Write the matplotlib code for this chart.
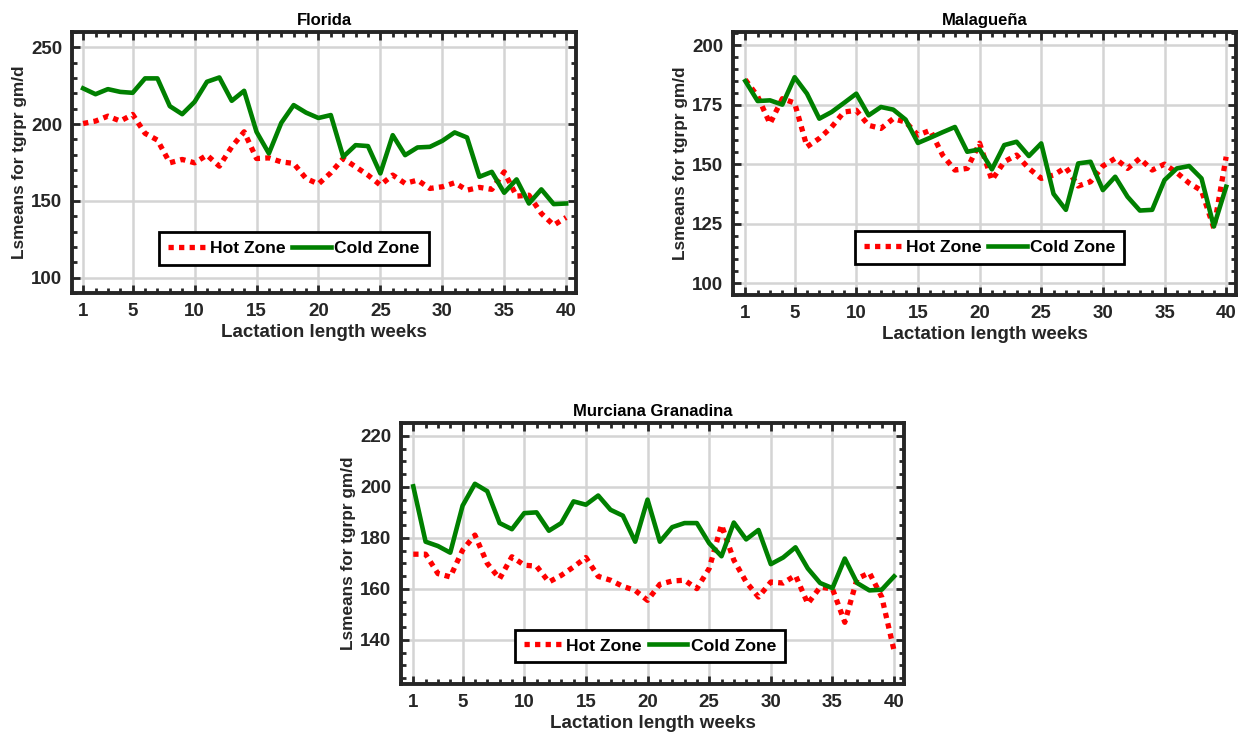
import matplotlib
matplotlib.use("Agg")
import matplotlib.pyplot as plt
from matplotlib.ticker import MultipleLocator, FixedLocator

plt.rcParams['font.family'] = ['Liberation Sans', 'DejaVu Sans']

weeks = list(range(1, 41))
xticks = [1, 5, 10, 15, 20, 25, 30, 35, 40]

florida_hot = [200.4, 202, 205.2, 202, 206.3, 194, 189.6, 174.8, 177, 174.8,
               179.8, 172.6, 185.2, 195, 177.6, 178, 175.4, 174.4, 164.6, 161,
               168.3, 177.6, 172.2, 166.8, 160.3, 166.8, 161.4, 163.5, 158.1, 159.2,
               161.8, 157, 158.8, 157.5, 168.9, 153.1, 153.7, 141.8, 134.2, 139.2]
florida_cold = [223.3, 219.5, 222.8, 221, 220.4, 229.8, 229.8, 211.7, 206.5, 214.5,
                227.6, 230.4, 215.2, 221.7, 195, 180.9, 200.8, 212.4, 207.5, 204,
                205.9, 178.7, 186.3, 185.7, 167.9, 192.8, 179.8, 184.8, 185.2, 189.1,
                194.6, 191.3, 165.7, 168.9, 155.3, 164, 148.3, 157.5, 147.9, 148.3]

malaguena_hot = [185.5, 178.5, 167, 177.5, 175.7, 157.3, 160.8, 165.6, 171.9, 172.6,
                 166.3, 165, 169.1, 167.7, 162.2, 164.2, 153.8, 147.5, 148.2, 158.8,
                 143.3, 151, 153.8, 148.2, 144, 145.4, 148.6, 140.8, 142.6, 149.2,
                 152.4, 148.2, 152.4, 147.5, 150, 146.4, 142, 138.9, 123.1, 153.1]
malaguena_cold = [184.9, 176.5, 176.8, 175, 186.5, 179.6, 169.1, 171.9, 175.7, 179.6,
                  170.5, 174, 172.9, 168.7, 158.9, 161.1, 163.4, 165.6, 155.2, 156.2,
                  147.8, 158, 159.4, 153.4, 158.7, 137.5, 130.8, 150.3, 151, 139.1,
                  144.7, 136.3, 130.5, 130.8, 143.3, 148.2, 149.2, 144, 123.8, 140.5]

murciana_hot = [173.6, 173.6, 166, 164.7, 175.2, 181.1, 170, 164, 172.6, 169.3,
                168.9, 162.7, 165.3, 168.6, 172.3, 164.9, 163.4, 161, 159.4, 155.5,
                161.8, 163.1, 163.4, 160.1, 168, 185.1, 171.3, 162.7, 156.8, 162.7,
                162.3, 165.3, 154.2, 160.7, 160, 146.9, 164, 166.3, 156.8, 135.7]
murciana_cold = [200.2, 178.5, 176.8, 174.2, 192.6, 201.2, 198.3, 185.8, 183.4, 189.7,
                 190, 182.8, 185.8, 194.3, 193, 196.6, 191, 188.7, 178.5, 195,
                 178.5, 184.2, 185.8, 185.8, 177.9, 172.8, 186, 179.4, 183.1, 169.7,
                 172.3, 176.3, 168, 162.3, 160.3, 171.9, 162.3, 159.4, 159.7, 164.9]

titles = ["Florida", "Malagueña", "Murciana Granadina"]
legend_labels = ["Hot Zone", "Cold Zone"]
xlabel = "Lactation length weeks"
ylabel = "Lsmeans for tgrpr gm/d"

fig = plt.figure(figsize=(12.39, 7.33), dpi=100)

panels = [
    dict(rect=[0.0581, 0.6003, 0.4068, 0.356], hot=florida_hot, cold=florida_cold,
         ylim=(90, 260), yticks=[100, 150, 200, 250], yminor=10, xlim=(0.1, 40.8),
         leg=(0.44, 0.17)),
    dict(rect=[0.5916, 0.5975, 0.406, 0.3588], hot=malaguena_hot, cold=malaguena_cold,
         ylim=(95, 205.5), yticks=[100, 125, 150, 175, 200], yminor=5, xlim=(0.0, 40.8),
         leg=(0.51, 0.18)),
    dict(rect=[0.3236, 0.0668, 0.406, 0.356], hot=murciana_hot, cold=murciana_cold,
         ylim=(122.7, 225), yticks=[140, 160, 180, 200, 220], yminor=5, xlim=(0.0, 40.8),
         leg=(0.495, 0.146)),
]

dark = "#262626"
for title, p in zip(titles, panels):
    ax = fig.add_axes(p["rect"])
    ax.plot(weeks, p["hot"], color="#ff0000", lw=3.8, linestyle=(0, (1, 1)),
            label=legend_labels[0], zorder=3)
    ax.plot(weeks, p["cold"], color="#008000", lw=3.3, label=legend_labels[1], zorder=4)
    ax.set_xlim(*p["xlim"])
    ax.set_ylim(*p["ylim"])
    ax.xaxis.set_major_locator(FixedLocator(xticks))
    ax.xaxis.set_minor_locator(MultipleLocator(1))
    ax.yaxis.set_major_locator(FixedLocator(p["yticks"]))
    ax.yaxis.set_minor_locator(MultipleLocator(p["yminor"]))
    ax.grid(True, which="major", color="#d4d4d4", lw=1.8, zorder=0)
    ax.set_axisbelow(True)
    for s in ax.spines.values():
        s.set_linewidth(2.8)
        s.set_color(dark)
    ax.tick_params(which="both", direction="in", top=True, right=True,
                   color=dark, width=2)
    ax.tick_params(which="major", length=6, labelsize=13.5, pad=7, labelcolor=dark)
    ax.tick_params(which="minor", length=3.5)
    for lab in ax.get_xticklabels() + ax.get_yticklabels():
        lab.set_fontweight("bold")
    ax.set_title(title, fontsize=12, fontweight="bold", pad=5)
    ax.set_xlabel(xlabel, fontsize=13.5, fontweight="bold", color=dark, labelpad=3)
    ax.set_ylabel(ylabel, fontsize=12.4, fontweight="bold", color=dark, labelpad=3)
    leg = ax.legend(loc="center", bbox_to_anchor=p["leg"], ncol=2, fancybox=False,
                    edgecolor="black", framealpha=1,
                    prop=dict(weight="bold", size=12.6), handlelength=2.2,
                    handletextpad=0.2, columnspacing=0.4, borderpad=0.5,
                    borderaxespad=0)
    leg.get_frame().set_linewidth(2)
    leg.set_zorder(10)

fig.savefig("out.png", dpi=100)
